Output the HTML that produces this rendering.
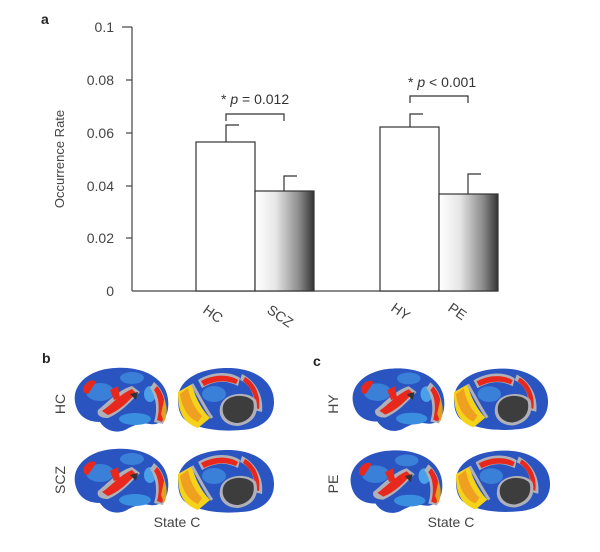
<!DOCTYPE html>
<html><head><meta charset="utf-8"><style>
html,body{margin:0;padding:0;background:#fff;}
svg{display:block;font-family:"Liberation Sans",Arial,sans-serif;}
</style></head><body>
<svg width="600" height="552" viewBox="0 0 600 552" xmlns="http://www.w3.org/2000/svg">
<defs>
<linearGradient id="g" x1="0" x2="1" y1="0" y2="0">
<stop offset="0" stop-color="#ffffff"/><stop offset="0.35" stop-color="#e6e6e6"/><stop offset="0.75" stop-color="#8a8a8a"/><stop offset="1" stop-color="#333"/>
</linearGradient>
<symbol id="lat" viewBox="0 0 100 70">
<path d="M5,38 C2,20 20,5 45,4 C70,2 95,12 98,35 C100,52 92,62 80,60 C70,58 62,62 55,66 C45,70 35,66 30,58 C15,58 7,50 5,38Z" fill="#2a55c0"/>
<ellipse cx="30" cy="28" rx="14" ry="9" fill="#3a7fd8"/>
<ellipse cx="62" cy="14" rx="12" ry="6" fill="#3a7fd8"/>
<ellipse cx="80" cy="30" rx="6" ry="8" fill="#4aa0e8"/>
<ellipse cx="65" cy="55" rx="16" ry="6" fill="#3a8ee0"/>
<path d="M28,46 C36,40 48,26 62,22 L70,28 C60,38 52,48 38,54 C32,54 26,52 28,46Z" fill="#b0b0b8"/>
<path d="M32,47 C40,42 50,30 62,25 L66,29 C58,38 50,46 38,51Z" fill="#e8281c"/>
<path d="M40,26 L48,22 L50,34 L44,36Z" fill="#e8281c"/>
<path d="M84,18 C96,28 99,45 93,60 L84,58 C88,46 86,32 80,24Z" fill="#b0b0b8"/>
<path d="M87,22 C96,32 97,46 92,58 L87,56 C90,45 89,33 84,26Z" fill="#e8281c"/>
<path d="M94,36 C98,42 97,52 94,58 L91,50Z" fill="#e0a020"/>
<path d="M14,22 C18,16 24,15 26,18 L18,30 C14,30 12,26 14,22Z" fill="#e8281c"/>
<path d="M60,30 L68,28 L66,36Z" fill="#333"/>
</symbol>
<symbol id="med" viewBox="0 0 100 70">
<path d="M2,35 C2,15 25,3 55,4 C80,5 98,18 98,38 C98,55 85,65 65,66 C45,68 20,65 8,55 C3,50 2,42 2,35Z" fill="#2a55c0"/>
<path d="M2,28 C2,45 5,58 22,64 L34,54 C24,44 18,30 16,20Z" fill="#f5d31a"/>
<path d="M4,30 C6,44 12,54 22,58 L26,52 C18,44 14,34 12,24Z" fill="#f0a020"/>
<path d="M16,20 C24,34 30,46 36,54" stroke="#b0b0b8" stroke-width="3" fill="none"/>
<ellipse cx="38" cy="30" rx="12" ry="8" fill="#3a7fd8"/>
<path d="M22,16 C38,6 56,8 64,14 L62,22 C50,16 40,16 26,24Z" fill="#b0b0b8"/>
<path d="M25,17 C40,9 55,11 62,16 L60,20 C50,16 40,16 28,22Z" fill="#e8281c"/>
<path d="M66,10 C78,16 88,30 86,48 L78,46 C80,32 74,20 64,16Z" fill="#b0b0b8"/>
<path d="M69,13 C78,18 85,30 83,45 L79,44 C80,32 74,22 67,17Z" fill="#e8281c"/>
<path d="M44,44 C46,28 72,26 80,36 C84,50 76,60 62,62 C50,62 42,54 44,44Z" fill="#b0b0b8"/>
<path d="M47,42 C50,30 70,29 77,37 C80,48 74,57 62,59 C52,59 45,52 47,42Z" fill="#3d3d3d"/>
</symbol>
</defs>
<text x="41" y="24" font-size="14" font-weight="bold" fill="#222">a</text>
<g stroke="#444" stroke-width="1.2" fill="none">
<line x1="132" y1="27" x2="132" y2="291"/>
<line x1="132" y1="291" x2="498" y2="291"/>
<line x1="122" y1="27" x2="132" y2="27"/>
<line x1="126" y1="80" x2="132" y2="80"/>
<line x1="126" y1="133" x2="132" y2="133"/>
<line x1="126" y1="186" x2="132" y2="186"/>
<line x1="126" y1="238" x2="132" y2="238"/>
</g>
<g font-size="14" fill="#444" text-anchor="end">
<text x="114" y="32">0.1</text><text x="114" y="85">0.08</text><text x="114" y="138">0.06</text><text x="114" y="191">0.04</text><text x="114" y="243">0.02</text><text x="114" y="296">0</text>
</g>
<text transform="translate(64,159) rotate(-90)" font-size="13" fill="#444" text-anchor="middle">Occurrence Rate</text>
<g stroke="#333" stroke-width="1.2">
<rect x="196" y="142" width="59" height="149" fill="#fff"/>
<rect x="255" y="191" width="59" height="100" fill="url(#g)"/>
<rect x="380" y="127" width="59" height="164" fill="#fff"/>
<rect x="439" y="194" width="59" height="97" fill="url(#g)"/>
<g fill="none">
<path d="M226,142V125H239"/><path d="M284,191V176H297"/>
<path d="M410,127V114H423"/><path d="M468,194V174H481"/>
<path d="M226,121V114H284V121"/><path d="M410,103V96H468V103"/>
</g>
</g>
<text x="221" y="104" font-size="14" fill="#333">* <tspan font-style="italic">p</tspan> = 0.012</text>
<text x="408" y="87" font-size="14" fill="#333">* <tspan font-style="italic">p</tspan> &lt; 0.001</text>
<g font-size="14" fill="#444">
<text transform="translate(202,312) rotate(35)">HC</text>
<text transform="translate(266,312) rotate(35)">SCZ</text>
<text transform="translate(390,310) rotate(35)">HY</text>
<text transform="translate(447,310) rotate(35)">PE</text>
</g>
<text x="42" y="363" font-size="14" font-weight="bold" fill="#222">b</text>
<text x="313" y="366" font-size="14" font-weight="bold" fill="#222">c</text>
<use href="#lat" x="70" y="364" width="100" height="70"/>
<use href="#med" x="176" y="364" width="100" height="70"/>
<use href="#lat" x="70" y="444" width="100" height="72"/>
<use href="#med" x="176" y="446" width="100" height="70"/>
<use href="#lat" x="348" y="364" width="98" height="70"/>
<use href="#med" x="452" y="364" width="98" height="70"/>
<use href="#lat" x="346" y="446" width="98" height="70"/>
<use href="#med" x="454" y="446" width="98" height="70"/>
<g font-size="14" fill="#444" text-anchor="middle">
<text transform="translate(65,404) rotate(-90)">HC</text>
<text transform="translate(65,480) rotate(-90)">SCZ</text>
<text transform="translate(338,404) rotate(-90)">HY</text>
<text transform="translate(338,484) rotate(-90)">PE</text>
<text x="177" y="527">State C</text>
<text x="451" y="527">State C</text>
</g>
</svg>
</body></html>
